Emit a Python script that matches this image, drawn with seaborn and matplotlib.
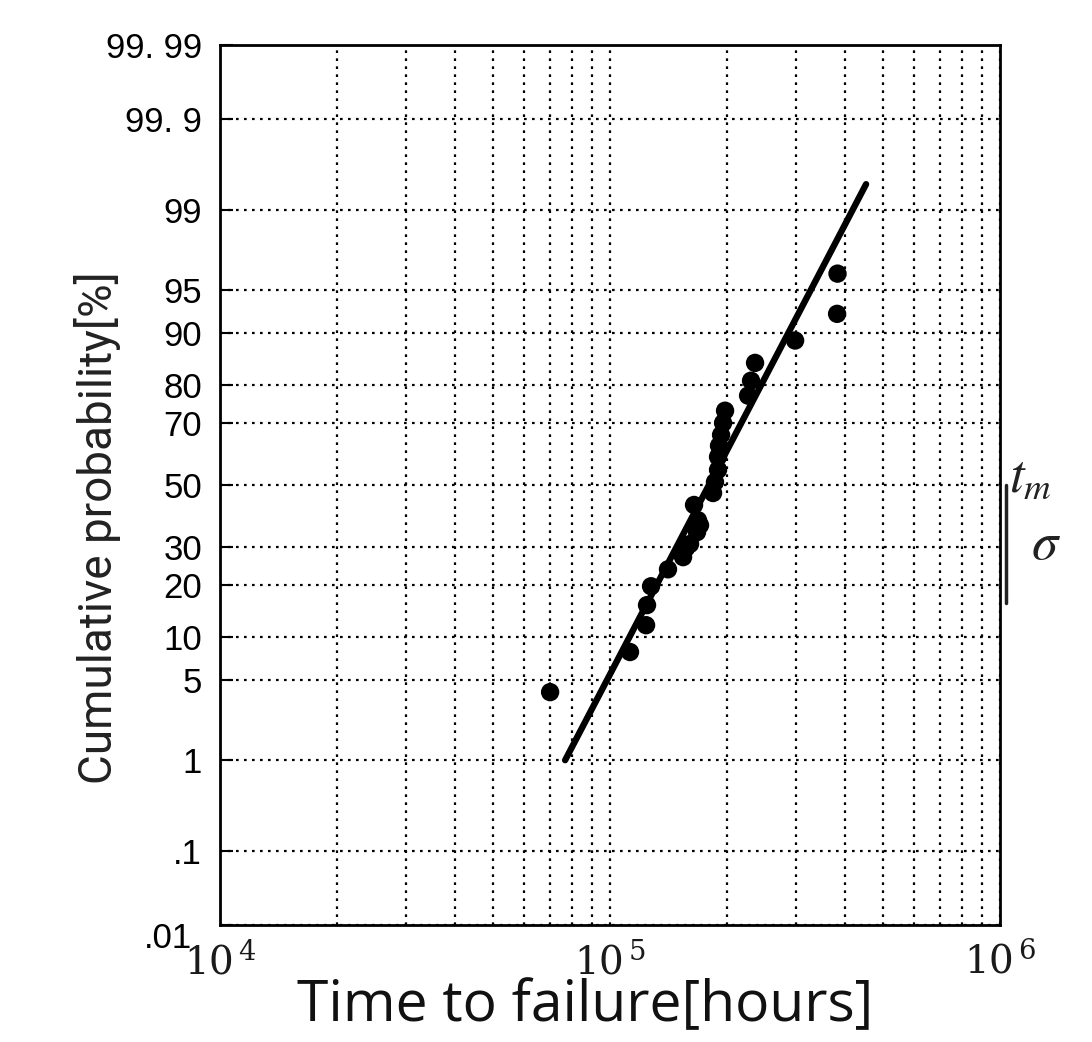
import math
from statistics import NormalDist
import numpy as np
import pandas as pd
import matplotlib
matplotlib.use("Agg")
import matplotlib.pyplot as plt
import matplotlib.transforms as mtransforms
from matplotlib.ticker import FixedLocator, NullFormatter, LogLocator, FixedFormatter
import seaborn as sns

# ---------------- data ----------------
time_hours = [70200, 112500, 123700, 124400, 127400, 140800, 153900, 156600,
              160400, 167100, 170100, 168100, 164200, 183700, 185800, 189200,
              189200, 190300, 192600, 194900, 197200, 225900, 229900, 235400,
              298200, 382100, 383000]
cum_prob = [4.0, 7.9, 11.8, 15.5, 19.6, 23.8, 27.1, 29.7,
            30.9, 34.5, 36.7, 38.3, 43.3, 47.3, 51.0, 55.1,
            59.4, 63.0, 66.4, 70.0, 73.5, 77.5, 81.1, 84.9,
            88.9, 92.6, 96.3]

fit_time = [76700, 453400]
fit_prob = [1.0, 99.45]

sigma_bracket = [50.0, 15.87]

y_ticks = [0.01, 0.1, 1, 5, 10, 20, 30, 50, 70, 80, 90, 95, 99, 99.9, 99.99]
y_tick_labels = [".01", ".1", "1", "5", "10", "20", "30", "50", "70", "80",
                 "90", "95", "99", "99. 9", "99. 99"]
x_ticks = [1e4, 1e5, 1e6]
x_tick_labels = [r"$10^{\,4}$", r"$10^{\,5}$", r"$10^{\,6}$"]

# ---------------- probability scale helpers ----------------
_nd = NormalDist()


def prob_to_z(p):
    arr = np.asarray(p, dtype=float)
    flat = np.clip(arr.ravel() / 100.0, 1e-9, 1 - 1e-9)
    out = np.array([_nd.inv_cdf(v) if np.isfinite(v) else np.nan for v in flat])
    return out.reshape(arr.shape)


def z_to_prob(z):
    arr = np.asarray(z, dtype=float)
    out = np.array([_nd.cdf(v) * 100.0 if np.isfinite(v) else np.nan for v in arr.ravel()])
    return out.reshape(arr.shape)


# ---------------- figure ----------------
sns.set_style("white")
plt.rcParams["font.family"] = ["Liberation Sans", "DejaVu Sans"]

fig = plt.figure(figsize=(10.92, 10.42), dpi=100)
ax = fig.add_axes([0.2015, 0.1123, 0.7143, 0.8445])

ax.set_xscale("log")
ax.set_yscale("function", functions=(prob_to_z, z_to_prob))
ax.set_xlim(1e4, 1e6)
ax.set_ylim(0.01, 99.99)

pts = pd.DataFrame({"time": time_hours, "prob": cum_prob})
fit = pd.DataFrame({"time": fit_time, "prob": fit_prob})

sns.lineplot(data=fit, x="time", y="prob", color="black", linewidth=4.6,
             ax=ax, zorder=3, sort=True, estimator=None)
sns.scatterplot(data=pts, x="time", y="prob", color="black", s=175,
                marker="o", edgecolor="none", ax=ax, zorder=4)

# ticks
ax.yaxis.set_major_locator(FixedLocator(y_ticks))
ax.yaxis.set_major_formatter(FixedFormatter(y_tick_labels))
ax.yaxis.set_minor_locator(FixedLocator([]))
ax.xaxis.set_major_locator(FixedLocator(x_ticks))
ax.xaxis.set_major_formatter(FixedFormatter(x_tick_labels))
ax.xaxis.set_minor_locator(LogLocator(base=10, subs=range(2, 10)))
ax.xaxis.set_minor_formatter(NullFormatter())

ax.tick_params(axis="y", which="major", direction="in", length=9, width=1.5,
               labelsize=25, pad=13, colors="black", left=True)
ax.tick_params(axis="x", which="both", length=0, pad=12)
for lbl in ax.get_xticklabels():
    lbl.set_fontsize(28)
    lbl.set_math_fontfamily("dejavuserif")
    lbl.set_color("#1a1a1a")

# shift the ".01" label down/left a bit
for lbl in ax.get_yticklabels():
    if lbl.get_text() == ".01":
        lbl.set_transform(lbl.get_transform() +
                          mtransforms.ScaledTranslation(-10 / 100, -10 / 100, fig.dpi_scale_trans))

# grid
grid_kw = dict(color="black", linestyle=(0, (1.2, 2.4)), linewidth=1.6)
ax.grid(axis="y", which="major", **grid_kw)
ax.grid(axis="x", which="both", **grid_kw)
ax.set_axisbelow(True)

for sp in ax.spines.values():
    sp.set_color("black")
    sp.set_linewidth(2.0)
    sp.set_visible(True)

# labels
ax.set_ylabel("Cumulative probability[%]", fontsize=33, family=["Roboto", "DejaVu Sans"],
              color="#222222")
ax.yaxis.set_label_coords(-0.127, 0.452)
ax.set_xlabel("Time to failure[hours]", fontsize=41, family=["Open Sans", "DejaVu Sans"],
              color="#111111")
ax.xaxis.set_label_coords(0.468, -0.060)

# t_m / sigma annotation on the right
bt = mtransforms.blended_transform_factory(ax.transAxes, ax.transData)
ax.plot([1.007, 1.007], sigma_bracket, transform=bt, color="#222222",
        linewidth=2.5, clip_on=False)
ax.text(1.011, 52.5, r"$t_m$", transform=bt, fontsize=38, ha="left", va="center",
        math_fontfamily="stix", color="#222222")
ax.text(1.040, 30.6, r"$\sigma$", transform=bt, fontsize=38, ha="left", va="center",
        math_fontfamily="stix", color="#222222")

fig.savefig("out.png", dpi=100, facecolor="white")
